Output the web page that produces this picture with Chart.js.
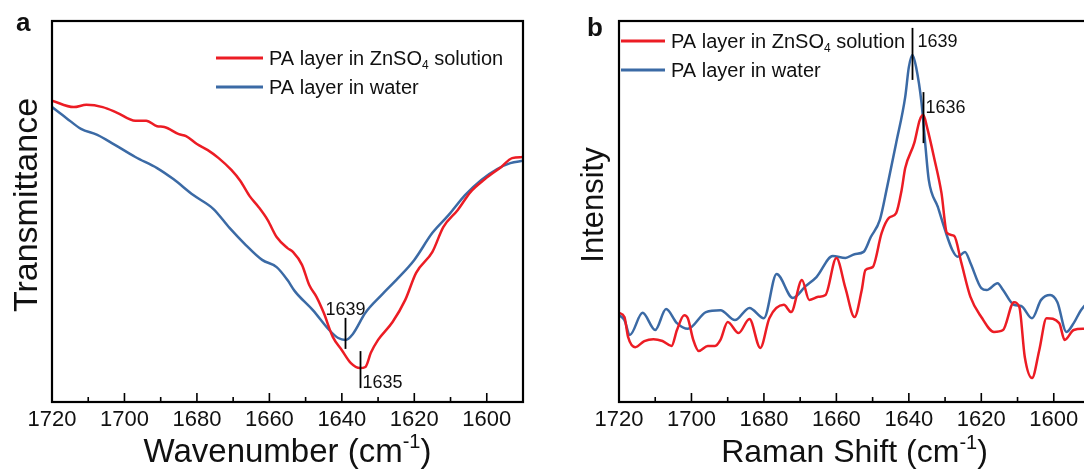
<!DOCTYPE html>
<html>
<head>
<meta charset="utf-8">
<script src="https://cdn.jsdelivr.net/npm/chart.js@4.4.1/dist/chart.umd.min.js"></script>
<style>
  html, body { margin: 0; padding: 0; background: #fff; overflow: hidden; }
  #wrap { position: relative; width: 1084px; height: 470px; overflow: hidden; background: #fff; }
  .panel { position: absolute; top: 0; }
  #pa { left: 0; }
  #pb { left: 560px; }
</style>
</head>
<body>
<div id="wrap">
  <div class="panel" id="pa"><canvas id="ftir" width="560" height="470"></canvas></div>
  <div class="panel" id="pb"><canvas id="raman" width="560" height="470"></canvas></div>
</div>
<script>
// ---- (a) FTIR, transmittance in arbitrary units ----
const ftirZnWavenumber = [1720, 1714, 1710.5, 1706, 1702, 1697, 1694, 1691, 1689, 1685, 1683, 1680, 1677, 1674, 1670.5, 1668, 1665.5, 1663, 1660.5, 1658, 1655, 1653.5, 1651, 1649, 1647, 1645, 1642.5, 1640, 1637.5, 1635, 1633.5, 1632, 1630, 1626, 1622.5, 1619.5, 1615, 1612, 1608, 1604.5, 1600.5, 1596, 1593, 1590];
const ftirZnTransmittance = [79.1, 77.4, 78.0, 77.4, 75.9, 73.8, 73.8, 72.4, 72.2, 70.3, 69.8, 67.7, 66.1, 64.0, 60.9, 58.0, 54.1, 51.2, 47.8, 43.3, 40.4, 39.4, 36.0, 30.7, 27.6, 23.4, 17.1, 13.6, 10.2, 8.9, 9.2, 12.9, 16.3, 21.0, 26.8, 33.9, 39.4, 45.9, 50.4, 55.1, 58.5, 61.7, 64.0, 64.3];
const ftirWaterWavenumber = [1720, 1716, 1712, 1707.5, 1703, 1697, 1691, 1686.5, 1681, 1675.5, 1671, 1666.5, 1662, 1658, 1655, 1653, 1648, 1643.5, 1641, 1639, 1637, 1633.5, 1629, 1624.5, 1620, 1615, 1610.5, 1606, 1601.5, 1597, 1593.5, 1590];
const ftirWaterTransmittance = [77.4, 74.5, 71.7, 70.1, 67.7, 64.3, 61.4, 58.5, 54.3, 50.7, 45.7, 41.2, 37.3, 35.4, 32.0, 29.1, 24.1, 18.9, 16.8, 16.3, 17.8, 23.4, 28.1, 32.5, 37.3, 44.4, 49.1, 54.3, 58.3, 61.2, 62.7, 63.3];

// ---- (b) Raman, intensity in arbitrary units ----
const ramanZnShift = [1720, 1718.5, 1717.5, 1715.5, 1713, 1710.5, 1708, 1705.5, 1704, 1702, 1701, 1699.5, 1698, 1695.5, 1693.5, 1692, 1690, 1687, 1684, 1681, 1678.5, 1674.5, 1672.5, 1669.5, 1667.5, 1665, 1663, 1660, 1657.5, 1655, 1653, 1652, 1650, 1647.5, 1645.5, 1643.5, 1642, 1641, 1638.5, 1637, 1636, 1635, 1633, 1631, 1629.5, 1627.5, 1625.5, 1623, 1620, 1616.5, 1614, 1611, 1609.5, 1608, 1606, 1604, 1602, 1598.5, 1597, 1594.5, 1592, 1590];
const ramanZnIntensity = [23.4, 22.3, 17.1, 14.4, 16.0, 16.5, 16.0, 14.7, 18.9, 22.8, 22.0, 16.3, 13.4, 14.7, 14.7, 16.3, 21.0, 18.1, 21.8, 14.2, 22.0, 25.5, 23.6, 32.0, 26.8, 27.6, 28.1, 37.8, 29.9, 22.3, 29.4, 34.6, 35.4, 44.4, 48.3, 49.6, 55.6, 61.4, 68.0, 74.0, 75.3, 72.2, 64.0, 54.9, 44.4, 43.6, 36.5, 27.6, 22.3, 18.4, 18.9, 26.2, 24.9, 11.8, 6.3, 13.6, 22.0, 20.7, 16.3, 18.9, 19.2, 19.2];
const ramanWaterShift = [1720, 1718.5, 1717, 1713.5, 1710, 1707, 1704, 1701, 1696, 1692, 1688, 1684, 1680, 1676.5, 1672, 1668.5, 1665.5, 1661, 1657.5, 1655, 1652.5, 1650.5, 1648, 1646, 1643.5, 1641, 1640, 1639, 1638, 1636.5, 1635.5, 1634.5, 1632, 1630, 1628, 1626.5, 1624.5, 1623, 1620, 1618.5, 1615.5, 1614, 1611, 1609, 1606, 1603.5, 1601, 1599, 1596.5, 1594.5, 1592.5, 1590];
const ramanWaterIntensity = [22.8, 21.5, 17.6, 23.4, 18.9, 24.4, 20.7, 19.2, 23.6, 24.1, 21.5, 24.7, 22.0, 33.6, 27.3, 30.4, 32.8, 38.3, 37.8, 38.8, 39.4, 43.3, 47.8, 56.4, 68.0, 80.1, 87.9, 91.1, 87.9, 78.5, 68.0, 58.3, 51.2, 45.1, 39.9, 38.1, 39.4, 36.5, 29.9, 29.4, 31.2, 29.4, 25.5, 25.2, 22.0, 26.8, 28.1, 26.2, 18.4, 20.7, 24.1, 26.8];

// ---- shared axis / legend text ----
const tickValues = [1720, 1700, 1680, 1660, 1640, 1620, 1600];
const seriesLabels = ['PA layer in ZnSO_{4} solution', 'PA layer in water'];
const seriesColors = ['#ec1c24', '#3b6aa5'];
const ftirPeaks = [1639, 1635];   // water, ZnSO4
const ramanPeaks = [1639, 1636];  // water, ZnSO4

const FONT = '"Liberation Sans", Arial, Helvetica, sans-serif';
const INK = '#111';

// text with _{sub} and ^{sup} segments
function richParts(str) {
  const parts = []; const re = /([_^])\{([^}]*)\}/g; let last = 0, m;
  while ((m = re.exec(str))) {
    if (m.index > last) parts.push({ t: str.slice(last, m.index), k: '' });
    parts.push({ t: m[2], k: m[1] });
    last = re.lastIndex;
  }
  if (last < str.length) parts.push({ t: str.slice(last), k: '' });
  return parts;
}
function drawRich(ctx, str, x, y, size, align) {
  const parts = richParts(str);
  const fontFor = k => `${k ? Math.round(size * 0.62) : size}px ${FONT}`;
  let w = 0;
  parts.forEach(p => { ctx.font = fontFor(p.k); p.w = ctx.measureText(p.t).width; w += p.w; });
  let cx = align === 'center' ? x - w / 2 : (align === 'right' ? x - w : x);
  ctx.textAlign = 'left';
  ctx.textBaseline = 'alphabetic';
  parts.forEach(p => {
    ctx.font = fontFor(p.k);
    const dy = p.k === '^' ? -size * 0.42 : (p.k === '_' ? size * 0.22 : 0);
    ctx.fillText(p.t, cx, y + dy);
    cx += p.w;
  });
}

// frame, inward ticks, titles, legend and peak markers
const decor = {
  id: 'decor',
  afterDraw(chart, args, o) {
    const { ctx, chartArea: ca } = chart;
    const xs = chart.scales.x, ys = chart.scales.y;
    ctx.save();
    ctx.fillStyle = INK;
    ctx.strokeStyle = '#000';

    // inward tick marks: major at labelled values, minor halfway between
    ctx.lineWidth = 1.6;
    const minor = tickValues.slice(0, -1).map((v, i) => (v + tickValues[i + 1]) / 2);
    const last = tickValues[tickValues.length - 1];
    minor.push(last - (tickValues[0] - tickValues[1]) / 2);
    ctx.beginPath();
    tickValues.forEach(v => { const px = xs.getPixelForValue(v); ctx.moveTo(px, ca.bottom); ctx.lineTo(px, ca.bottom - 9); });
    minor.forEach(v => {
      if (v < xs.min) return;
      const px = xs.getPixelForValue(v); ctx.moveTo(px, ca.bottom); ctx.lineTo(px, ca.bottom - 5);
    });
    ctx.stroke();

    // frame
    ctx.lineWidth = 2.2;
    ctx.strokeRect(ca.left, ca.top, ca.right - ca.left, ca.bottom - ca.top);

    // panel letter
    ctx.font = `bold 26px ${FONT}`;
    ctx.textAlign = 'left'; ctx.textBaseline = 'alphabetic';
    ctx.fillText(o.letter, o.letterX, o.letterY);

    // axis titles
    drawRich(ctx, o.xTitle, (ca.left + ca.right) / 2, 462, o.xTitleSize, 'center');
    ctx.save();
    ctx.translate(o.yTitleX, o.yTitleY);
    ctx.rotate(-Math.PI / 2);
    drawRich(ctx, o.yTitle, 0, 0, o.yTitleSize, 'center');
    ctx.restore();

    // legend
    chart.data.datasets.forEach((ds, i) => {
      const y = o.legendY + i * o.legendGap;
      ctx.strokeStyle = ds.borderColor; ctx.lineWidth = 3;
      ctx.beginPath(); ctx.moveTo(o.legendX, y); ctx.lineTo(o.legendX + o.legendLen, y); ctx.stroke();
      ctx.fillStyle = INK;
      drawRich(ctx, ds.label, o.legendX + o.legendLen + 6, y + 7, 20, 'left');
    });

    // peak markers, anchored on the series value at the peak
    ctx.strokeStyle = '#000'; ctx.lineWidth = 1.8; ctx.fillStyle = INK;
    o.peaks.forEach(pk => {
      const pts = chart.data.datasets[pk.dataset].data;
      const pt = pts.find(p => p.x === pk.value);
      const px = Math.round(xs.getPixelForValue(pk.value)) + 0.5;
      const py = ys.getPixelForValue(pt.y);
      ctx.beginPath(); ctx.moveTo(px, py + pk.from); ctx.lineTo(px, py + pk.to); ctx.stroke();
      ctx.font = `18px ${FONT}`;
      ctx.textAlign = pk.align; ctx.textBaseline = 'alphabetic';
      ctx.fillText(String(pk.value), px + pk.dx, py + pk.dy);
    });
    ctx.restore();
  }
};

function makeChart(id, series, cfg) {
  return new Chart(document.getElementById(id), {
    type: 'line',
    data: {
      datasets: series.map((s, i) => ({
        label: seriesLabels[i],
        data: s.xs.map((x, j) => ({ x, y: s.ys[j] })),
        borderColor: seriesColors[i],
        borderWidth: 2.5,
        pointRadius: 0,
        cubicInterpolationMode: 'monotone',
        fill: false
      }))
    },
    options: {
      responsive: false,
      animation: false,
      devicePixelRatio: 1,
      events: [],
      layout: { padding: { left: cfg.left, right: cfg.right, top: 21, bottom: 32 } },
      plugins: { legend: { display: false }, tooltip: { enabled: false }, decor: cfg },
      scales: {
        x: {
          type: 'linear', reverse: true, min: 1590, max: 1720,
          grid: { display: false, drawTicks: false },
          border: { display: false },
          afterBuildTicks: sc => { sc.ticks = tickValues.map(v => ({ value: v })); },
          afterFit: sc => { sc.height = 36; },
          ticks: { font: { family: FONT, size: 22 }, color: INK, padding: 5, maxRotation: 0, autoSkip: false, callback: v => String(v) }
        },
        y: { display: false, min: 0, max: 100 }
      }
    },
    plugins: [decor]
  });
}

makeChart('ftir',
  [{ xs: ftirZnWavenumber, ys: ftirZnTransmittance }, { xs: ftirWaterWavenumber, ys: ftirWaterTransmittance }],
  {
    left: 52, right: 37,
    letter: 'a', letterX: 16, letterY: 31,
    xTitle: 'Wavenumber (cm^{-1})', xTitleSize: 33,
    yTitle: 'Transmittance', yTitleSize: 34, yTitleX: 37, yTitleY: 205,
    legendX: 216, legendY: 58, legendGap: 29, legendLen: 47,
    peaks: [
      { value: ftirPeaks[0], dataset: 1, from: -22, to: 9, align: 'center', dx: 0, dy: -25 },
      { value: ftirPeaks[1], dataset: 0, from: -17, to: 20, align: 'left', dx: 2, dy: 20 }
    ]
  });

makeChart('raman',
  [{ xs: ramanZnShift, ys: ramanZnIntensity }, { xs: ramanWaterShift, ys: ramanWaterIntensity }],
  {
    left: 59, right: 30,
    letter: 'b', letterX: 27, letterY: 36,
    xTitle: 'Raman Shift (cm^{-1})', xTitleSize: 32,
    yTitle: 'Intensity', yTitleSize: 31, yTitleX: 43, yTitleY: 205,
    legendX: 61, legendY: 41, legendGap: 29, legendLen: 44,
    peaks: [
      { value: ramanPeaks[0], dataset: 1, from: -27, to: 25, align: 'left', dx: 5, dy: -8 },
      { value: ramanPeaks[1], dataset: 0, from: -23, to: 28, align: 'left', dx: 2, dy: -2 }
    ]
  });
</script>
</body>
</html>
